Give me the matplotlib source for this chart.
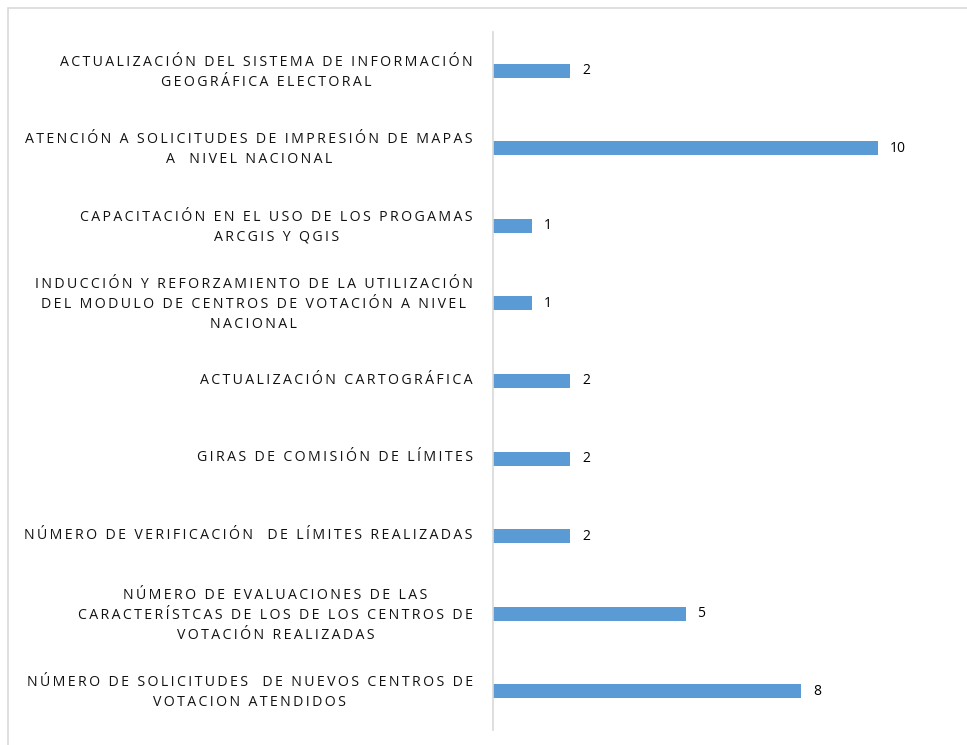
import matplotlib
matplotlib.use("Agg")
import matplotlib.pyplot as plt
from matplotlib.patches import Rectangle
from matplotlib.transforms import ScaledTranslation

categories = [
    "ACTUALIZACIÓN DEL SISTEMA DE INFORMACIÓN\nGEOGRÁFICA ELECTORAL",
    "ATENCIÓN A SOLICITUDES DE IMPRESIÓN DE MAPAS\nA  NIVEL NACIONAL",
    "CAPACITACIÓN EN EL USO DE LOS PROGAMAS\nARCGIS Y QGIS",
    "INDUCCIÓN Y REFORZAMIENTO DE LA UTILIZACIÓN\nDEL MODULO DE CENTROS DE VOTACIÓN A NIVEL\nNACIONAL",
    "ACTUALIZACIÓN CARTOGRÁFICA",
    "GIRAS DE COMISIÓN DE LÍMITES",
    "NÚMERO DE VERIFICACIÓN  DE LÍMITES REALIZADAS",
    "NÚMERO DE EVALUACIONES DE LAS\nCARACTERÍSTCAS DE LOS DE LOS CENTROS DE\nVOTACIÓN REALIZADAS",
    "NÚMERO DE SOLICITUDES  DE NUEVOS CENTROS DE\nVOTACION ATENDIDOS",
]
values = [2, 10, 1, 1, 2, 2, 2, 5, 8]

plt.rcParams['font.family'] = ['Open Sans', 'DejaVu Sans']

def spaced(s):
    return "\n".join("\u2009".join(line) for line in s.split("\n"))

W, H = 967, 745
fig = plt.figure(figsize=(W / 100, H / 100), dpi=100)
fig.patches.append(Rectangle((8 / W, -0.1), 1.2, 1 - 8 / H + 0.1, transform=fig.transFigure,
                             fill=False, edgecolor='#d9d9d9', linewidth=1.2))
ax = fig.add_axes([493 / W, 15 / H, 462 / W, (730 - 32) / H])

n = len(categories)
ypos = list(range(n))[::-1]
ax.barh(ypos, values, height=0.18, color='#5B9BD5')
ax.set_xlim(0, 12)
ax.set_ylim(-0.5, n - 0.5)

for y, v in zip(ypos, values):
    ax.annotate(str(v), (v, y), xytext=(12, 0), textcoords='offset pixels',
                ha='left', va='center', fontsize=10, color='#000000')

ax.set_yticks(ypos)
ax.set_yticklabels([spaced(c) for c in categories], fontsize=10.2, color='#111111',
                   multialignment='center', linespacing=1.45)
ax.tick_params(axis='y', length=0, pad=14.5)
shift = ScaledTranslation(0, 3 / 100, fig.dpi_scale_trans)
for lab in ax.get_yticklabels():
    lab.set_transform(lab.get_transform() + shift)
ax.set_xticks([])
for s in ['top', 'right', 'bottom']:
    ax.spines[s].set_visible(False)
ax.spines['left'].set_color('#d9d9d9')
ax.spines['left'].set_linewidth(1.2)

fig.savefig('out.png', dpi=100)
